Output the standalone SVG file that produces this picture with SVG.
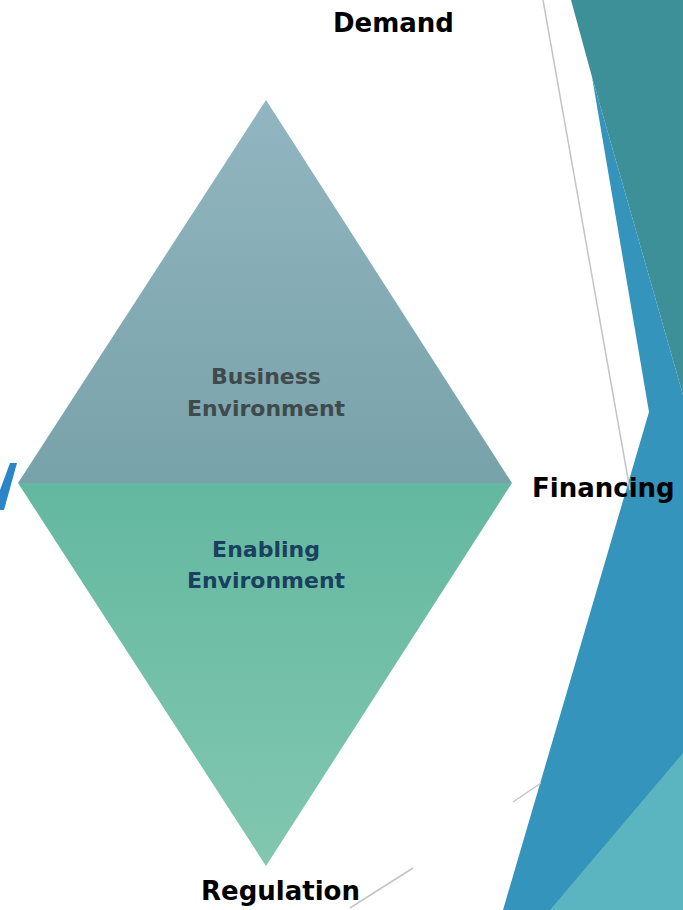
<svg xmlns="http://www.w3.org/2000/svg" width="683" height="910" viewBox="0 0 683 910">
<defs>
<linearGradient id="gTop" x1="0" y1="100" x2="0" y2="483" gradientUnits="userSpaceOnUse">
<stop offset="0" stop-color="#92b6c1"/>
<stop offset="1" stop-color="#78a2aa"/>
</linearGradient>
<linearGradient id="gBot" x1="0" y1="483" x2="0" y2="866" gradientUnits="userSpaceOnUse">
<stop offset="0" stop-color="#64b8a0"/>
<stop offset="1" stop-color="#82c7b0"/>
</linearGradient>
<style>
.lbl{font-family:"DejaVu Sans","Liberation Sans",sans-serif;font-weight:bold;font-size:26px;fill:#000}
.in{font-family:"DejaVu Sans","Liberation Sans",sans-serif;font-weight:bold;font-size:22px;text-anchor:middle}
.gl{stroke:#c4c4c4;stroke-width:1.5;fill:none}
</style>
</defs>
<rect width="683" height="910" fill="#fff"/>
<g id="background">
<polygon points="571,0 683,0 683,395 592,77" fill="#3d8f98"/>
<polygon points="592,77 683,395 683,910 503,910 649,412" fill="#3594bb"/>
<polygon points="683,753 683,910 550,910" fill="#5ab5c0"/>
<polygon points="10,463 17,463 4,510 0,510 0,490" fill="#2a86c8"/>
</g>
<g id="connectors">
<line class="gl" x1="543" y1="0" x2="630" y2="490"/>
<line class="gl" x1="513" y1="802" x2="541" y2="783"/>
<line class="gl" x1="350" y1="908" x2="413" y2="868"/>
</g>
<g id="business">
<polygon points="266,100 512,483 18,483" fill="url(#gTop)"/>
<text class="in" x="266" y="384" fill="#3f4a4c">Business</text>
<text class="in" x="266" y="416" fill="#3f4a4c">Environment</text>
</g>
<g id="enabling">
<polygon points="18,483 512,483 266,866" fill="url(#gBot)"/>
<text class="in" x="266" y="557" fill="#19405f">Enabling</text>
<text class="in" x="266" y="588" fill="#19405f">Environment</text>
</g>
<g id="demand"><text class="lbl" x="333" y="32">Demand</text></g>
<g id="financing"><text class="lbl" x="532" y="497">Financing</text></g>
<g id="regulation"><text class="lbl" x="201" y="900">Regulation</text></g>
</svg>
